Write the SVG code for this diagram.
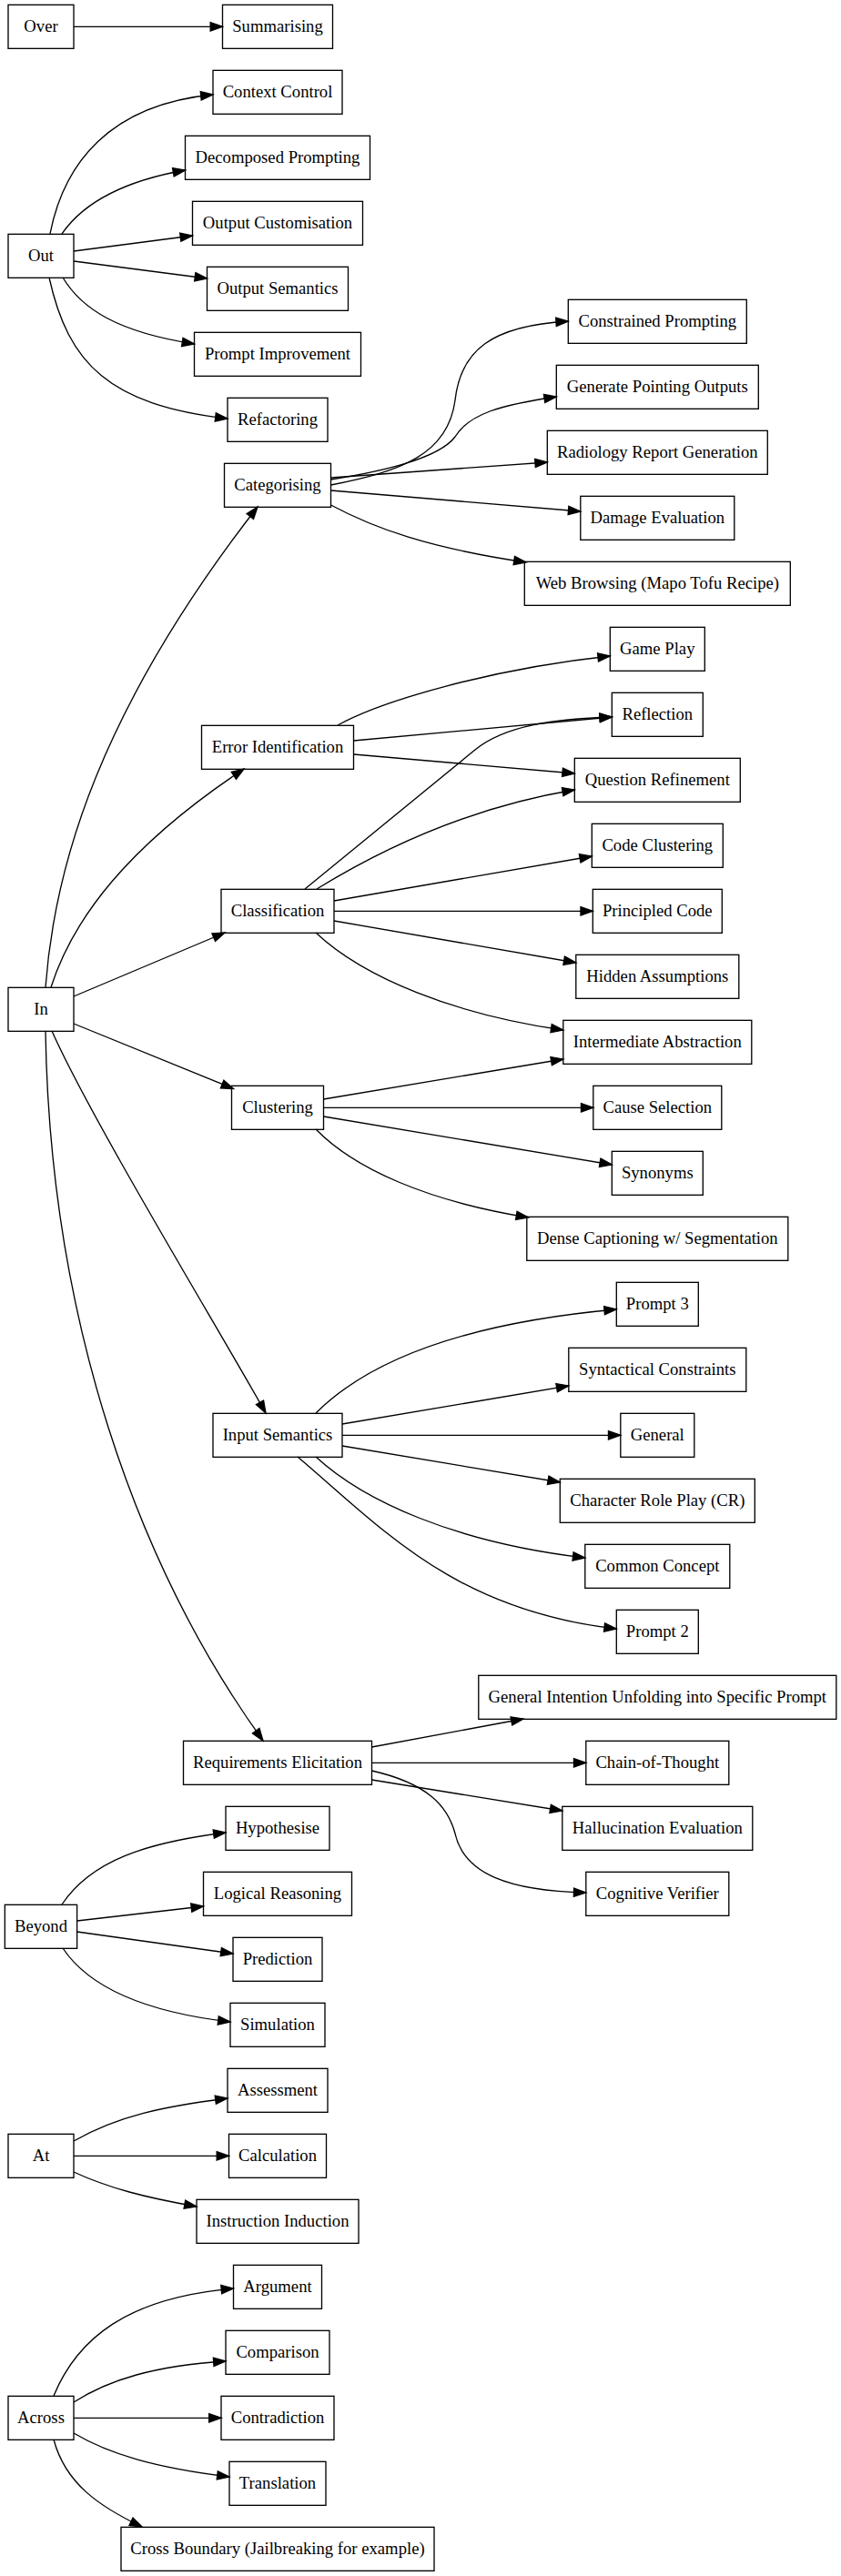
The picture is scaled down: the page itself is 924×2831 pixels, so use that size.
<svg xmlns="http://www.w3.org/2000/svg" width="924" height="2831" viewBox="0 0 924 2831">
<style>
.n rect{fill:none;stroke:#000;stroke-width:1.33}
.n text{font-family:"Liberation Serif","Times New Roman",serif;font-size:18.67px;text-anchor:middle;fill:#000}
#edges path{fill:none;stroke:#000;stroke-width:1.33;marker-end:url(#ah)}
</style>
<defs>
<marker id="ah" markerUnits="userSpaceOnUse" markerWidth="16" markerHeight="12" refX="13.33" refY="4.67" orient="auto" overflow="visible">
<path d="M0,0 L13.33,4.67 L0,9.33 z" fill="#000" stroke="#000" stroke-width="1.33"/>
</marker>
</defs>
<rect width="924" height="2831" fill="#fff"/>
<g id="edges">
<path d="M81,29.33 L244.5,29.33"/>
<path d="M55,257 C70,180 120,115 234,104"/>
<path d="M68,257 C90,225 130,200 203.5,187"/>
<path d="M81,276 L211.5,259"/>
<path d="M81,287 L227.5,306"/>
<path d="M69,305 C90,340 130,365 213.5,378"/>
<path d="M54,305 C75,400 120,445 250,460"/>
<path d="M363.5,533 C440,518 492,500 500,440 C506,385 540,358 624.3,353"/>
<path d="M363.5,527 C440,515 485,500 500,480 C515,455 550,445 611.3,436"/>
<path d="M363.5,525 L601.3,508"/>
<path d="M363.5,539 L637.8,562"/>
<path d="M363.5,555 C410,580 470,602 578,618"/>
<path d="M50,1085 C60,950 110,780 283,557"/>
<path d="M56,1085 C80,1010 140,930 268,845"/>
<path d="M81,1095 L247,1025"/>
<path d="M81,1125 L256.5,1196.5"/>
<path d="M57,1133 C100,1230 240,1460 292,1553"/>
<path d="M50,1133 C55,1450 150,1720 289,1913"/>
<path d="M371,797 C420,770 540,735 670.3,721"/>
<path d="M388.5,814 L672.3,788"/>
<path d="M388.5,829 L631.3,850"/>
<path d="M335,977 L522,824 C555,797 610,790 672.3,788"/>
<path d="M348,977 C400,945 500,890 631.3,868"/>
<path d="M367,990 L650.3,941"/>
<path d="M367,1001.33 L651.3,1001.33"/>
<path d="M367,1012 L632.8,1058"/>
<path d="M347,1025 C400,1075 500,1115 618.8,1132"/>
<path d="M355.5,1208 L618.8,1164"/>
<path d="M355.5,1217.33 L651.8,1217.33"/>
<path d="M355.5,1227 L672.3,1280"/>
<path d="M347,1241 C390,1285 470,1320 580.5,1338"/>
<path d="M347,1553 C400,1500 500,1455 677.3,1439"/>
<path d="M376,1565 L624.8,1523"/>
<path d="M376,1577.33 L681.8,1577.33"/>
<path d="M376,1589 L615.3,1629"/>
<path d="M347,1601 C400,1650 500,1695 642.8,1712"/>
<path d="M327,1601 C420,1680 500,1770 677.3,1790"/>
<path d="M408.5,1920 L575,1889"/>
<path d="M408.5,1937.33 L643.8,1937.33"/>
<path d="M408.5,1956 L617.8,1990"/>
<path d="M408.5,1946 C470,1960 492,1985 500,2015 C510,2060 560,2078 643.8,2080"/>
<path d="M68,2093 C100,2045 160,2025 248,2014"/>
<path d="M84.7,2111 L223.5,2095"/>
<path d="M84.7,2123 L256,2147"/>
<path d="M69,2141 C95,2180 150,2210 253,2222"/>
<path d="M81,2353 C130,2325 180,2315 250,2306"/>
<path d="M81,2369.33 L251.5,2369.33"/>
<path d="M81,2387 C120,2405 160,2415 216,2425"/>
<path d="M59,2633 C85,2570 140,2525 256.5,2515"/>
<path d="M81,2640 C120,2615 170,2600 248,2595"/>
<path d="M81,2657.33 L243,2657.33"/>
<path d="M81,2674 C120,2697 170,2712 252,2722"/>
<path d="M59,2681 C72,2730 110,2755 156,2777"/>
</g>
<g id="over" class="n"><rect x="9" y="5.33" width="72" height="48"/><text x="45" y="34.6">Over</text></g>
<g id="summarising" class="n"><rect x="244.5" y="5.33" width="121" height="48"/><text x="305" y="34.6">Summarising</text></g>
<g id="context-control" class="n"><rect x="234" y="77.33" width="142" height="48"/><text x="305" y="106.6">Context Control</text></g>
<g id="decomposed-prompting" class="n"><rect x="203.5" y="149.33" width="203" height="48"/><text x="305" y="178.6">Decomposed Prompting</text></g>
<g id="output-customisation" class="n"><rect x="211.5" y="221.33" width="187" height="48"/><text x="305" y="250.6">Output Customisation</text></g>
<g id="out" class="n"><rect x="9" y="257.33" width="72" height="48"/><text x="45" y="286.6">Out</text></g>
<g id="output-semantics" class="n"><rect x="227.5" y="293.33" width="155" height="48"/><text x="305" y="322.6">Output Semantics</text></g>
<g id="constrained-prompting" class="n"><rect x="624.3" y="329.33" width="196" height="48"/><text x="722.3" y="358.6">Constrained Prompting</text></g>
<g id="prompt-improvement" class="n"><rect x="213.5" y="365.33" width="183" height="48"/><text x="305" y="394.6">Prompt Improvement</text></g>
<g id="generate-pointing-outputs" class="n"><rect x="611.3" y="401.33" width="222" height="48"/><text x="722.3" y="430.6">Generate Pointing Outputs</text></g>
<g id="refactoring" class="n"><rect x="250" y="437.33" width="110" height="48"/><text x="305" y="466.6">Refactoring</text></g>
<g id="radiology-report-generation" class="n"><rect x="601.3" y="473.33" width="242" height="48"/><text x="722.3" y="502.6">Radiology Report Generation</text></g>
<g id="categorising" class="n"><rect x="246.5" y="509.33" width="117" height="48"/><text x="305" y="538.6">Categorising</text></g>
<g id="damage-evaluation" class="n"><rect x="637.8" y="545.33" width="169" height="48"/><text x="722.3" y="574.6">Damage Evaluation</text></g>
<g id="web-browsing" class="n"><rect x="576.3" y="617.33" width="292" height="48"/><text x="722.3" y="646.6">Web Browsing (Mapo Tofu Recipe)</text></g>
<g id="game-play" class="n"><rect x="670.3" y="689.33" width="104" height="48"/><text x="722.3" y="718.6">Game Play</text></g>
<g id="reflection" class="n"><rect x="672.3" y="761.33" width="100" height="48"/><text x="722.3" y="790.6">Reflection</text></g>
<g id="error-identification" class="n"><rect x="221.5" y="797.33" width="167" height="48"/><text x="305" y="826.6">Error Identification</text></g>
<g id="question-refinement" class="n"><rect x="631.3" y="833.33" width="182" height="48"/><text x="722.3" y="862.6">Question Refinement</text></g>
<g id="code-clustering" class="n"><rect x="650.3" y="905.33" width="144" height="48"/><text x="722.3" y="934.6">Code Clustering</text></g>
<g id="classification" class="n"><rect x="243" y="977.33" width="124" height="48"/><text x="305" y="1006.6">Classification</text></g>
<g id="principled-code" class="n"><rect x="651.3" y="977.33" width="142" height="48"/><text x="722.3" y="1006.6">Principled Code</text></g>
<g id="hidden-assumptions" class="n"><rect x="632.8" y="1049.33" width="179" height="48"/><text x="722.3" y="1078.6">Hidden Assumptions</text></g>
<g id="in" class="n"><rect x="9" y="1085.33" width="72" height="48"/><text x="45" y="1114.6">In</text></g>
<g id="intermediate-abstraction" class="n"><rect x="618.8" y="1121.33" width="207" height="48"/><text x="722.3" y="1150.6">Intermediate Abstraction</text></g>
<g id="clustering" class="n"><rect x="254.5" y="1193.33" width="101" height="48"/><text x="305" y="1222.6">Clustering</text></g>
<g id="cause-selection" class="n"><rect x="651.8" y="1193.33" width="141" height="48"/><text x="722.3" y="1222.6">Cause Selection</text></g>
<g id="synonyms" class="n"><rect x="672.3" y="1265.33" width="100" height="48"/><text x="722.3" y="1294.6">Synonyms</text></g>
<g id="dense-captioning" class="n"><rect x="578.8" y="1337.33" width="287" height="48"/><text x="722.3" y="1366.6">Dense Captioning w/ Segmentation</text></g>
<g id="prompt-3" class="n"><rect x="677.3" y="1409.33" width="90" height="48"/><text x="722.3" y="1438.6">Prompt 3</text></g>
<g id="syntactical-constraints" class="n"><rect x="624.8" y="1481.33" width="195" height="48"/><text x="722.3" y="1510.6">Syntactical Constraints</text></g>
<g id="input-semantics" class="n"><rect x="234" y="1553.33" width="142" height="48"/><text x="305" y="1582.6">Input Semantics</text></g>
<g id="general" class="n"><rect x="681.8" y="1553.33" width="81" height="48"/><text x="722.3" y="1582.6">General</text></g>
<g id="character-role-play" class="n"><rect x="615.3" y="1625.33" width="214" height="48"/><text x="722.3" y="1654.6">Character Role Play (CR)</text></g>
<g id="common-concept" class="n"><rect x="642.8" y="1697.33" width="159" height="48"/><text x="722.3" y="1726.6">Common Concept</text></g>
<g id="prompt-2" class="n"><rect x="677.3" y="1769.33" width="90" height="48"/><text x="722.3" y="1798.6">Prompt 2</text></g>
<g id="general-intention" class="n"><rect x="525.8" y="1841.33" width="393" height="48"/><text x="722.3" y="1870.6">General Intention Unfolding into Specific Prompt</text></g>
<g id="requirements-elicitation" class="n"><rect x="201.5" y="1913.33" width="207" height="48"/><text x="305" y="1942.6">Requirements Elicitation</text></g>
<g id="chain-of-thought" class="n"><rect x="643.8" y="1913.33" width="157" height="48"/><text x="722.3" y="1942.6">Chain-of-Thought</text></g>
<g id="hypothesise" class="n"><rect x="248" y="1985.33" width="114" height="48"/><text x="305" y="2014.6">Hypothesise</text></g>
<g id="hallucination-evaluation" class="n"><rect x="617.8" y="1985.33" width="209" height="48"/><text x="722.3" y="2014.6">Hallucination Evaluation</text></g>
<g id="logical-reasoning" class="n"><rect x="223.5" y="2057.33" width="163" height="48"/><text x="305" y="2086.6">Logical Reasoning</text></g>
<g id="cognitive-verifier" class="n"><rect x="643.8" y="2057.33" width="157" height="48"/><text x="722.3" y="2086.6">Cognitive Verifier</text></g>
<g id="beyond" class="n"><rect x="5.33" y="2093.33" width="79.3" height="48"/><text x="45" y="2122.6">Beyond</text></g>
<g id="prediction" class="n"><rect x="256" y="2129.33" width="98" height="48"/><text x="305" y="2158.6">Prediction</text></g>
<g id="simulation" class="n"><rect x="253" y="2201.33" width="104" height="48"/><text x="305" y="2230.6">Simulation</text></g>
<g id="assessment" class="n"><rect x="250" y="2273.33" width="110" height="48"/><text x="305" y="2302.6">Assessment</text></g>
<g id="at" class="n"><rect x="9" y="2345.33" width="72" height="48"/><text x="45" y="2374.6">At</text></g>
<g id="calculation" class="n"><rect x="251.5" y="2345.33" width="107" height="48"/><text x="305" y="2374.6">Calculation</text></g>
<g id="instruction-induction" class="n"><rect x="216" y="2417.33" width="178" height="48"/><text x="305" y="2446.6">Instruction Induction</text></g>
<g id="argument" class="n"><rect x="256.5" y="2489.33" width="97" height="48"/><text x="305" y="2518.6">Argument</text></g>
<g id="comparison" class="n"><rect x="248" y="2561.33" width="114" height="48"/><text x="305" y="2590.6">Comparison</text></g>
<g id="across" class="n"><rect x="9" y="2633.33" width="72" height="48"/><text x="45" y="2662.6">Across</text></g>
<g id="contradiction" class="n"><rect x="243" y="2633.33" width="124" height="48"/><text x="305" y="2662.6">Contradiction</text></g>
<g id="translation" class="n"><rect x="252" y="2705.33" width="106" height="48"/><text x="305" y="2734.6">Translation</text></g>
<g id="cross-boundary" class="n"><rect x="133" y="2777.33" width="344" height="48"/><text x="305" y="2806.6">Cross Boundary (Jailbreaking for example)</text></g>
</svg>
